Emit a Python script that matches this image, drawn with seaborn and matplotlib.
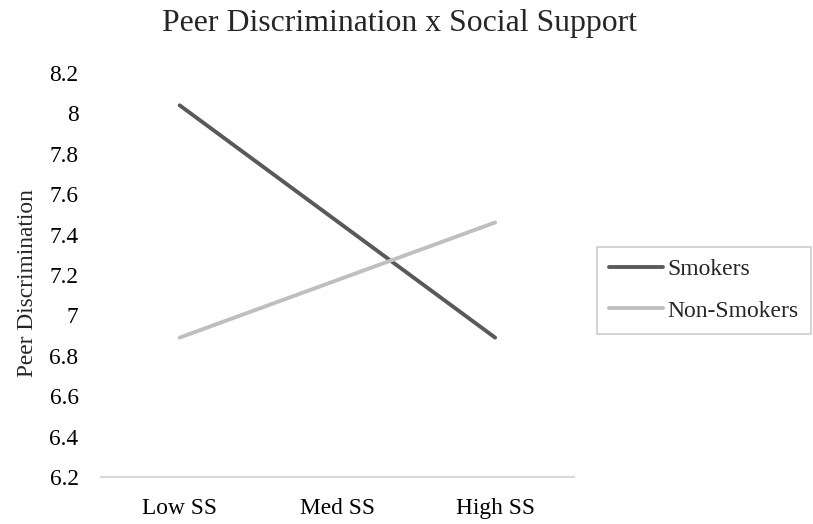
import matplotlib
matplotlib.use("Agg")
import matplotlib.pyplot as plt
import seaborn as sns
import pandas as pd

# values
categories = ["Low SS", "Med SS", "High SS"]
smokers = [8.04, 7.465, 6.89]
non_smokers = [6.89, 7.175, 7.46]
y_ticks = [6.2, 6.4, 6.6, 6.8, 7.0, 7.2, 7.4, 7.6, 7.8, 8.0, 8.2]
y_tick_labels = ["6.2", "6.4", "6.6", "6.8", "7", "7.2", "7.4", "7.6", "7.8", "8", "8.2"]

df = pd.DataFrame({
    "ss": categories * 2,
    "value": smokers + non_smokers,
    "group": ["Smokers"] * 3 + ["Non-Smokers"] * 3,
})

sns.set_style("white")
plt.rcParams["font.family"] = ["Liberation Serif", "DejaVu Serif"]

fig = plt.figure(figsize=(8.13, 5.24), dpi=100)
ax = fig.add_axes([0.124, 0.0897, 0.582, 0.771])

sns.lineplot(
    data=df, x="ss", y="value", hue="group", sort=False,
    palette={"Smokers": "#595959", "Non-Smokers": "#bfbfbf"},
    linewidth=2.8, ax=ax, legend=False,
)

ax.set_xlim(-0.5, 2.5)
ax.set_ylim(6.2, 8.2)
ax.set_yticks(y_ticks)
ax.set_yticklabels(y_tick_labels)
ax.tick_params(axis="both", length=0, labelsize=16.8, labelcolor="black")
ax.tick_params(axis="y", pad=16)
ax.tick_params(axis="x", pad=15)
ax.set_xlabel("")
ax.set_ylabel("Peer Discrimination", fontsize=16.8)
ax.yaxis.set_label_coords(-0.132, 0.48)

for side in ["top", "right", "left"]:
    ax.spines[side].set_visible(False)
ax.spines["bottom"].set_color("#d9d9d9")
ax.spines["bottom"].set_linewidth(1.5)

fig.text(0.492, 0.955, "Peer Discrimination x Social Support",
         fontsize=22.9, ha="center", va="center")

handles = ax.get_lines()[:2]
leg = fig.legend(
    handles, ["Smokers", "Non-Smokers"],
    loc="upper left", bbox_to_anchor=(0.734, 0.529), borderaxespad=0,
    fontsize=17, frameon=True, fancybox=False,
    handlelength=2.3, handletextpad=0.2, borderpad=0.5, labelspacing=0.85,
)
leg.get_frame().set_edgecolor("#bfbfbf")
leg.get_frame().set_linewidth(1.2)

fig.savefig("out.png", dpi=100)
